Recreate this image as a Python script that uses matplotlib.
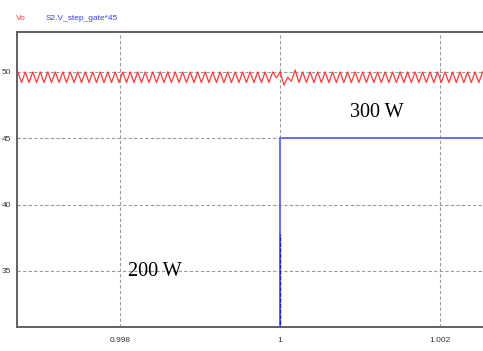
import numpy as np
import matplotlib
matplotlib.use('Agg')
import matplotlib.pyplot as plt

# time window and ripple timing
t_start = 0.9967125
t_end = 1.0025375
ripple_period = 0.0000937

# Vo ripple: peak / trough value of each cycle (V)
vo_peak = [50.0] * 35 + [50.0, 49.6, 50.15] + [50.0] * 25
vo_trough = [49.2] * 34 + [49.55, 49.0, 49.3] + [49.2] * 25

# S2.V_step_gate*45
step_t = [t_start, 1.0, 1.0, t_end]
step_v = [0.0, 0.0, 45.0, 45.0]
step_low_v = [0.0, 37.8]

x_ticks = [0.998, 1.0, 1.002]
x_tick_labels = ['0.998', '1', '1.002']
y_ticks = [35, 40, 45, 50]

# build the alternating peak/trough polyline
vo_v = []
for p, tr in zip(vo_peak, vo_trough):
    vo_v += [p, tr]
vo_v.append(vo_peak[-1])
vo_t = t_start + 0.00001 + np.arange(len(vo_v)) * ripple_period / 2

fig = plt.figure(figsize=(4.83, 3.51), dpi=100)
ax = fig.add_axes([17 / 483, 1 - 327 / 351, 1 - 17 / 483, (327 - 32) / 351])

ax.plot(vo_t, vo_v, color='#ff3b3b', lw=0.9, zorder=3)
ax.plot(step_t, step_v, color='#6a6aff', lw=1.4, zorder=4)
ax.plot([1.0, 1.0], step_low_v, color='#1a1acc', lw=1.0, ls=(0, (3, 1)), zorder=5)

ax.set_xlim(t_start, t_end)
ax.set_ylim(30.78, 53.01)
ax.set_xticks(x_ticks)
ax.set_xticklabels(x_tick_labels)
ax.set_yticks(y_ticks)
ax.tick_params(axis='x', length=0, labelsize=6, labelcolor='#333333', pad=7)
ax.tick_params(axis='y', length=0, labelsize=6, labelcolor='#333333', pad=4.5)
for lab in ax.get_xticklabels() + ax.get_yticklabels():
    lab.set_family('Liberation Sans')

ax.grid(True, color='#9a9a9a', lw=0.8, ls=(0, (3, 2)))
ax.set_axisbelow(True)
for s in ['top', 'bottom', 'left']:
    ax.spines[s].set_color('#606060')
    ax.spines[s].set_linewidth(1.4)
ax.spines['right'].set_visible(False)

ax.text(1.000875, 46.6, '300 W', family='Liberation Serif', fontsize=14.5, color='black')
ax.text(0.9981, 34.6, '200 W', family='Liberation Serif', fontsize=14.5, color='black')

fig.text(16 / 483, 1 - 19 / 351, 'Vo', family='Liberation Sans', fontsize=6,
         color='#ff3b3b', va='center')
fig.text(46 / 483, 1 - 19 / 351, 'S2.V_step_gate*45', family='Liberation Sans', fontsize=6,
         color='#3b3bff', va='center')

fig.savefig('out.png', dpi=100)
